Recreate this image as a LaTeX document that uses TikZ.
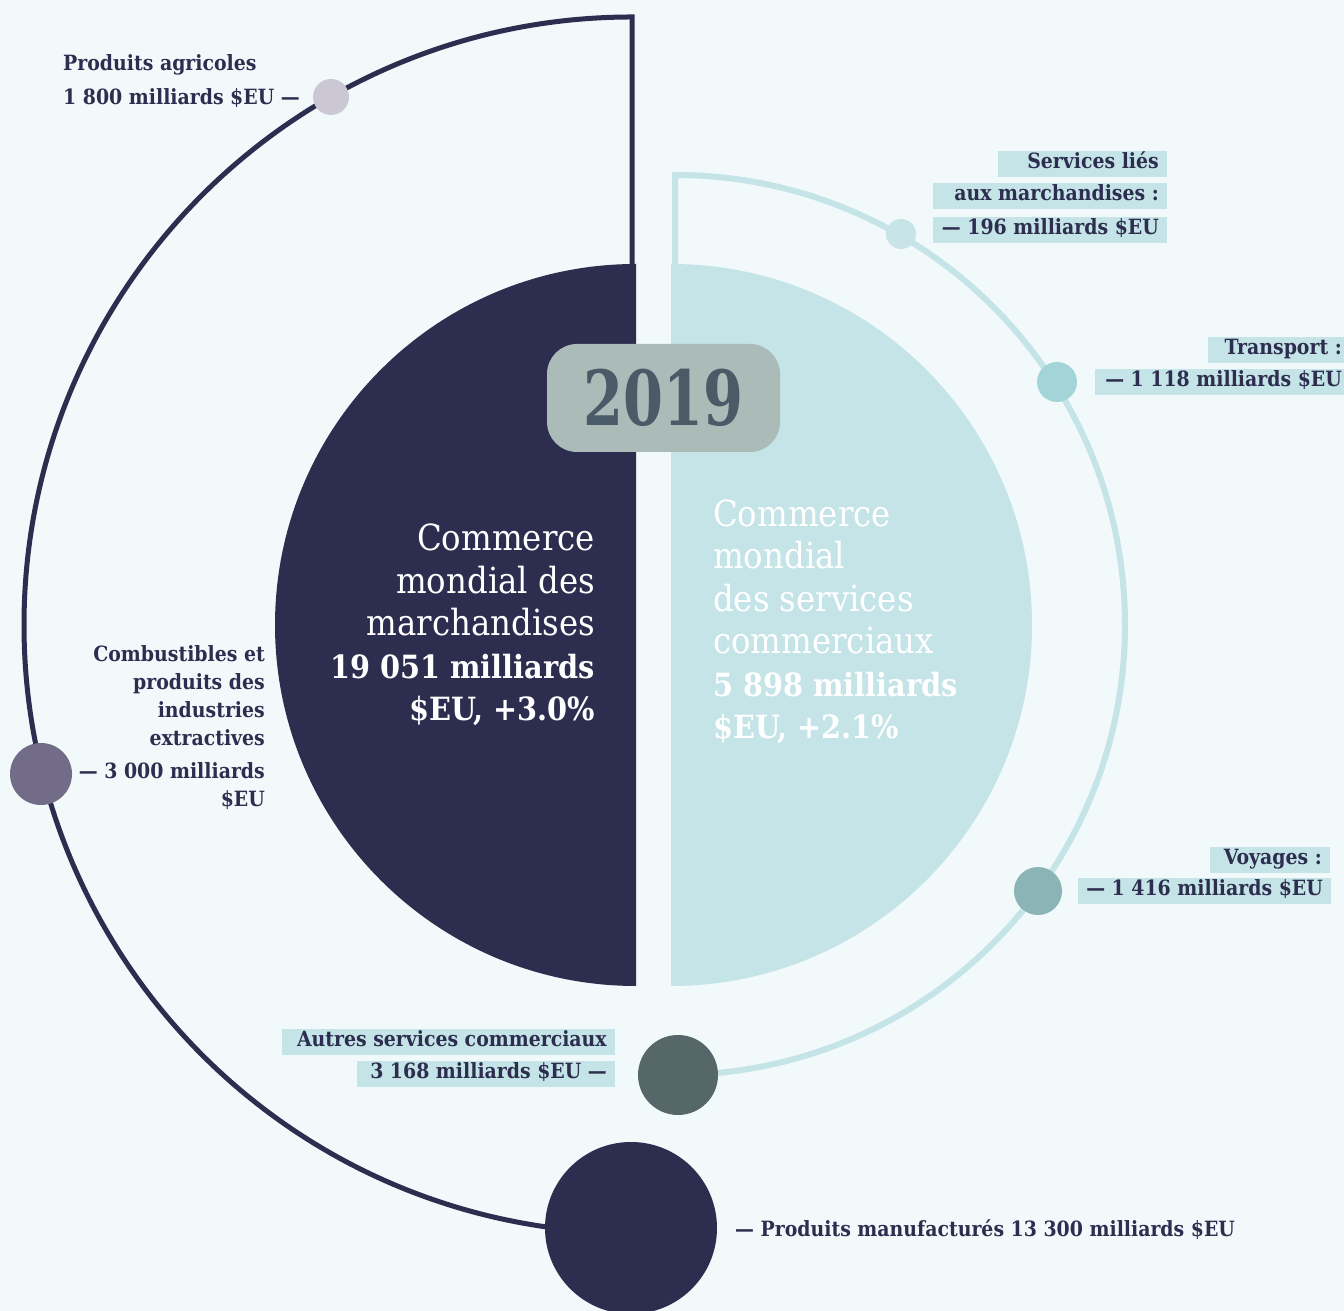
\documentclass[tikz,border=0pt]{standalone}
\usepackage{fontspec}
\setmainfont{DejaVu Serif Condensed}
\definecolor{bgc}{HTML}{F1F9FA}
\definecolor{navy}{HTML}{2C2D4F}
\definecolor{lightc}{HTML}{C5E4E7}
\definecolor{agric}{HTML}{CBC8D4}
\definecolor{combc}{HTML}{736C88}
\definecolor{servc}{HTML}{C8E4E7}
\definecolor{transc}{HTML}{A3D5D8}
\definecolor{voyc}{HTML}{8AB4B5}
\definecolor{autrc}{HTML}{566769}
\definecolor{boxc}{HTML}{AABBB8}
\definecolor{yearc}{HTML}{4B5A67}
\newcommand{\bignum}[1]{{\fontsize{32}{42.5}\selectfont\bfseries #1}}
\newsavebox{\rtbox}
\newcommand{\rbox}[2]{\sbox{\rtbox}{#2}\ifdim\wd\rtbox<#1\makebox[#1][r]{\usebox{\rtbox}}\else\usebox{\rtbox}\fi}
\tikzset{
  darkarc/.style={draw=navy, line width=5pt},
  lightarc/.style={draw=lightc, line width=6pt},
  dot/.style={circle, inner sep=0pt, draw=none},
  lbl/.style={text=navy, font=\fontsize{21}{28}\selectfont\bfseries, inner sep=0pt},
  hl/.style={lbl, fill=lightc, inner xsep=8pt, inner ysep=0pt, text height=15pt, text depth=5pt, minimum height=26pt, anchor=east},
  bigtxt/.style={text=white, font=\fontsize{36}{42.5}\selectfont, inner sep=0pt}
}
\begin{document}
\begin{tikzpicture}[x=1pt,y=1pt]
\useasboundingbox (0,0) rectangle (1344,1311);
\fill[bgc] (0,0) rectangle (1344,1311);
% outer arcs
\draw[darkarc] (632,1046) -- (632,1294) arc[start angle=90, end angle=262, radius=608pt];
\draw[lightarc] (675,1046) -- (675,1136) arc[start angle=90, end angle=-84.5, radius=450pt];
% half discs
\fill[navy] (636,325) arc[start angle=-90, end angle=-270, radius=361pt] -- cycle;
\fill[lightc] (671,325) arc[start angle=-90, end angle=90, radius=361pt] -- cycle;
% year
\node[fill=boxc, rounded corners=30pt, minimum width=233pt, minimum height=108pt, inner sep=0pt] (year) at (663.5,913) {};
\node[text=yearc, font=\fontsize{76}{76}\selectfont\bfseries, inner sep=0pt] (yeartxt) at (year.center) {\scalebox{0.84}[1]{2019}};
% center texts
\node[bigtxt, align=right, anchor=east] (merch) at (595,686) {Commerce\\mondial des\\marchandises\\\bignum{19 051 milliards}\\\bignum{\$EU, +3.0\%}};
\node[bigtxt, align=left, anchor=west] (serv) at (713,689) {Commerce\\mondial\\des services\\commerciaux\\\bignum{5 898 milliards}\\\bignum{\$EU, +2.1\%}};
% dots
\node[dot, fill=agric, minimum size=36pt] (agri) at (331,1214) {};
\node[dot, fill=combc, minimum size=62pt] (comb) at (41,537) {};
\node[dot, fill=navy, minimum size=172pt] (manu) at (631,83) {};
\node[dot, fill=servc, minimum size=30pt] (sliees) at (901,1077) {};
\node[dot, fill=transc, minimum size=40pt] (trans) at (1057,929) {};
\node[dot, fill=voyc, minimum size=48pt] (voy) at (1038,420) {};
\node[dot, fill=autrc, minimum size=80pt] (autr) at (678,236) {};
% labels
\node[lbl, anchor=west] (agri1) at (63,1246) {Produits agricoles};
\node[lbl, anchor=west] (agri2) at (63,1213) {1 800 milliards \$EU —};
\node[lbl, align=right, anchor=east] (comb1) at (265,615) {Combustibles et\\produits des\\industries\\extractives};
\node[lbl, align=right, anchor=east] (comb2) at (265,525) {— 3 000 milliards\\\$EU};
\node[lbl, anchor=west] (manu1) at (735,81) {— Produits manufacturés 13 300 milliards \$EU};
\node[hl] (sl1) at (1167,1147) {\rbox{153pt}{Services liés}};
\node[hl] (sl2) at (1167,1115) {\rbox{218pt}{aux marchandises :}};
\node[hl] (sl3) at (1167,1081) {\rbox{218pt}{— 196 milliards \$EU}};
\node[hl] (tr1) at (1350,961) {\rbox{126pt}{Transport :}};
\node[hl] (tr2) at (1350,929) {\rbox{239pt}{— 1 118 milliards \$EU}};
\node[hl] (vo1) at (1330,451) {\rbox{104pt}{Voyages :}};
\node[hl] (vo2) at (1331,420) {\rbox{234pt}{— 1 416 milliards \$EU}};
\node[hl] (au1) at (615,269) {\rbox{317pt}{Autres services commerciaux}};
\node[hl] (au2) at (615,237) {\rbox{242pt}{3 168 milliards \$EU —}};
\end{tikzpicture}
\end{document}
